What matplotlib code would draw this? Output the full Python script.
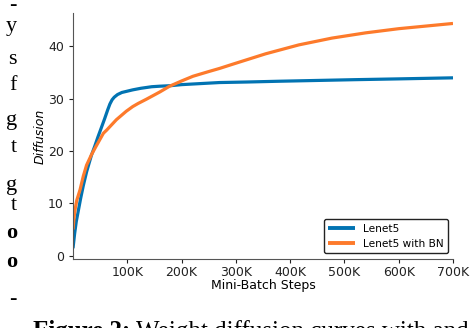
import matplotlib
matplotlib.use("Agg")
import matplotlib.pyplot as plt
from matplotlib.ticker import FuncFormatter

# steps in thousands
lenet_x = [0, 3, 6, 10, 14, 19, 25, 30, 34, 40, 46, 52, 58, 64, 68, 72, 76, 82, 90,
           98, 110, 125, 145, 160, 180, 200, 235, 270, 320, 380, 450, 520, 600, 650, 700]
lenet_y = [1.4, 4.2, 6.5, 8.7, 10.9, 13.4, 16.0, 17.8, 19.2, 20.9, 22.7, 24.4, 26.1,
           27.9, 29.0, 29.8, 30.3, 30.8, 31.2, 31.4, 31.7, 32.0, 32.3, 32.4, 32.5,
           32.7, 32.9, 33.1, 33.2, 33.35, 33.5, 33.65, 33.8, 33.9, 34.0]

bn_x = [0, 2, 4, 7, 10, 13, 19, 25, 34, 43, 56, 62, 80, 98, 110, 120, 135, 160, 178,
        200, 221, 250, 270, 294, 355, 416, 477, 539, 600, 650, 700]
bn_y = [5.0, 7.3, 8.9, 10.6, 11.6, 12.6, 15.2, 17.3, 19.3, 21.0, 23.4, 24.0, 26.0,
        27.6, 28.5, 29.1, 29.9, 31.3, 32.4, 33.4, 34.3, 35.2, 35.8, 36.6, 38.6,
        40.3, 41.6, 42.6, 43.4, 43.9, 44.4]

x_ticks = [100, 200, 300, 400, 500, 600, 700]
y_ticks = [0, 10, 20, 30, 40]

# ends of lines from the neighbouring text column
margin_chars = ["-", "y", "s", "f", "g", "t", "g", "t", "o", "o", "-"]
margin_rows = [5, 27, 60, 86, 120, 147, 186, 205, 233, 262, 299]
margin_bold = [False, False, False, False, False, False, False, False, True, True, False]

fig = plt.figure(figsize=(4.72, 3.28), dpi=100)
ax = fig.add_axes([73 / 472, 69 / 328, 380 / 472, 246 / 328])

ax.plot([v * 1000 for v in lenet_x], lenet_y, color="#0173b2", lw=2.3,
        label="Lenet5", solid_capstyle="butt")
ax.plot([v * 1000 for v in bn_x], bn_y, color="#fd7a2b", lw=2.3,
        label="Lenet5 with BN", solid_capstyle="butt")

ax.set_xlim(0, 700000)
ax.set_ylim(-0.65, 46.4)
ax.set_xticks([v * 1000 for v in x_ticks])
ax.xaxis.set_major_formatter(FuncFormatter(lambda v, p: "%dK" % round(v / 1000)))
ax.set_yticks(y_ticks)
ax.tick_params(labelsize=9, length=3, width=0.8, colors="#222222")
ax.tick_params(axis="x", pad=2)

for s in ["top", "right"]:
    ax.spines[s].set_visible(False)
for s in ["left", "bottom"]:
    ax.spines[s].set_color("#555555")
    ax.spines[s].set_linewidth(0.8)

ax.set_xlabel("Mini-Batch Steps", fontsize=9, labelpad=0)
ax.set_ylabel("Diffusion", fontsize=9, style="italic", labelpad=1)

leg = ax.legend(loc="lower right", bbox_to_anchor=(0.987, 0.024), borderaxespad=0,
                fontsize=7.6, handlelength=2.5, fancybox=True, framealpha=1)
leg.get_frame().set_edgecolor("#222222")
leg.get_frame().set_linewidth(1.0)
for line in leg.get_lines():
    line.set_linewidth(2.8)

for ch, row, bold in zip(margin_chars, margin_rows, margin_bold):
    fig.text(17 / 472, 1 - row / 328, ch, ha="right", va="center",
             fontsize=16, family="Liberation Serif",
             weight="bold" if bold else "normal")

cap = fig.text(33 / 472, 1 - 320 / 328, "Figure 2:", ha="left", va="top",
               fontsize=18, family="Liberation Serif", weight="bold")
fig.canvas.draw()
bb = cap.get_window_extent()
fig.text(bb.x1 / 472 + 0.012, 1 - 320 / 328, "Weight diffusion curves with and",
         ha="left", va="top", fontsize=18, family="Liberation Serif")

fig.savefig("out.png", dpi=100)
